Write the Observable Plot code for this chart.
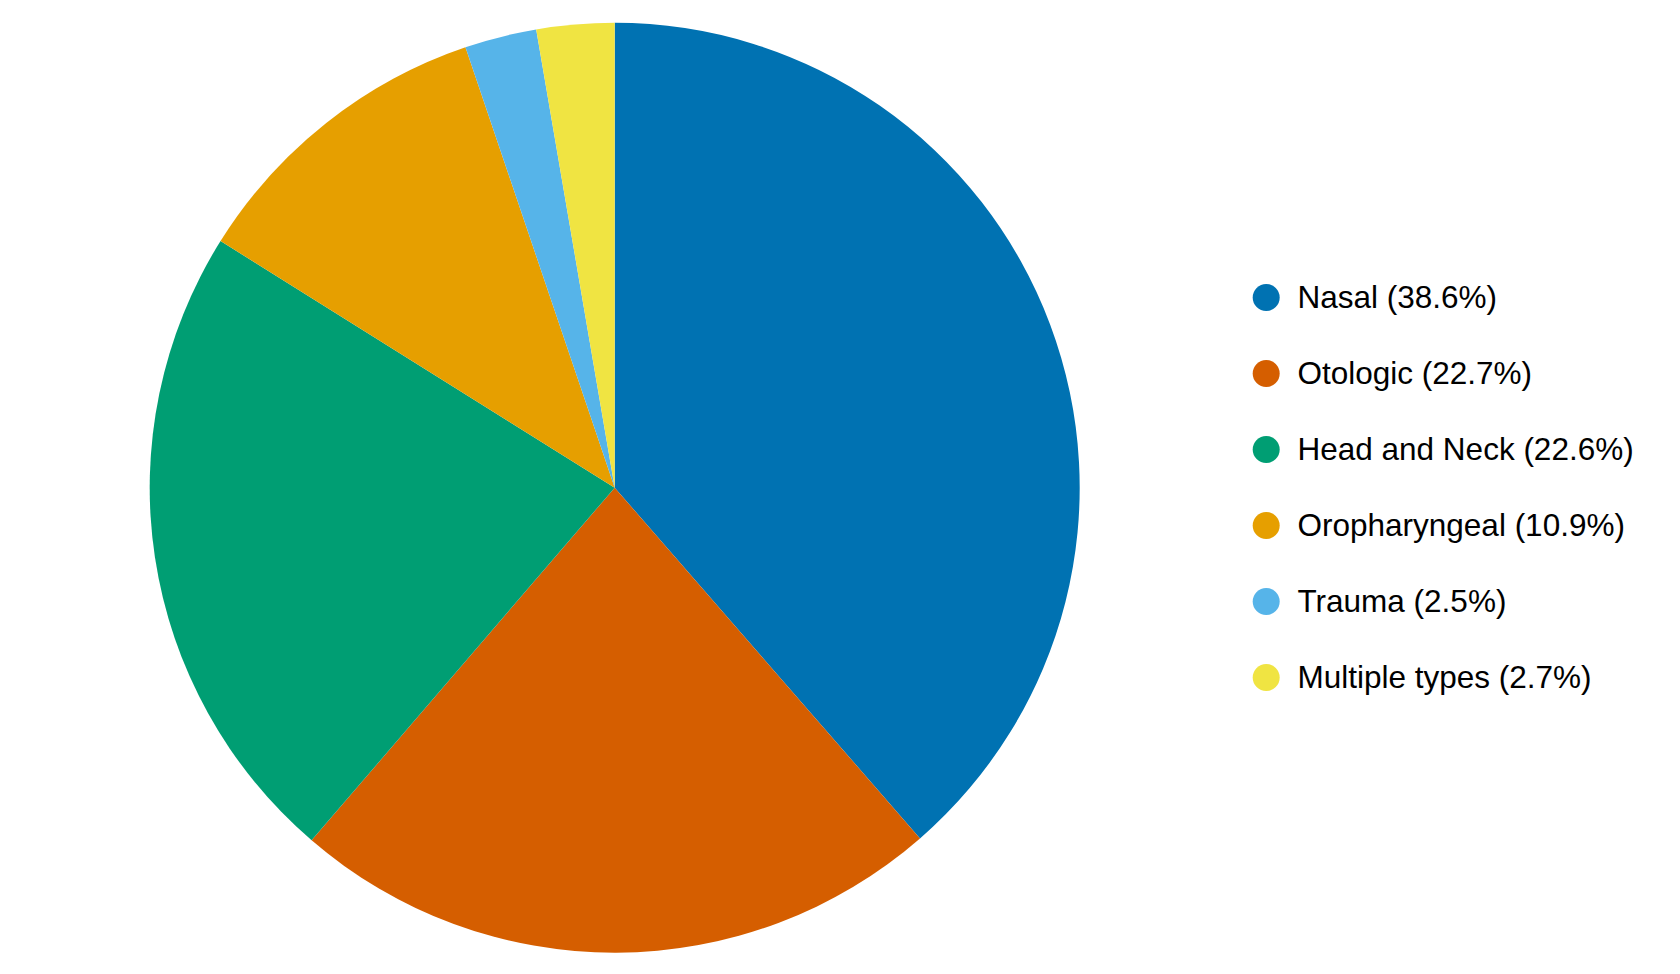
<!DOCTYPE html>
<html>
<head>
<meta charset="utf-8">
<script src="https://cdn.jsdelivr.net/npm/d3@7"></script>
<script src="https://cdn.jsdelivr.net/npm/@observablehq/plot@0.6"></script>
<style>
  html, body { margin: 0; padding: 0; background: #fff; }
  #chart { width: 1680px; height: 974px; }
  #chart svg text { font-family: "Liberation Sans", Arial, sans-serif; }
</style>
</head>
<body>
<div id="chart"></div>
<script>
const categories = ["Nasal", "Otologic", "Head and Neck", "Oropharyngeal", "Trauma", "Multiple types"];
const percents = [38.6, 22.7, 22.6, 10.9, 2.5, 2.7];
const colors = ["#0072B2", "#D55E00", "#009E73", "#E69F00", "#56B4E9", "#F0E442"];
const legendLabels = categories.map((c, i) => `${c} (${percents[i]}%)`);

const data = categories.map((c, i) => ({category: c, value: percents[i], label: legendLabels[i]}));

const colorScale = Plot.scale({color: {type: "ordinal", domain: categories, range: colors}});

const cx = 614.7, cy = 487.7, R = 465;

function pieMark(index, scales) {
  const centerX = scales.x(0);
  const radius = scales.x(1) - scales.x(0);
  const g = d3.create("svg:g").attr("transform", `translate(${centerX},${cy})`);
  const arcs = d3.pie().sort(null).value(d => d.value)(data);
  const arc = d3.arc().innerRadius(0).outerRadius(radius);
  g.selectAll("path").data(arcs).join("path")
    .attr("d", arc)
    .attr("fill", d => colorScale.apply(d.data.category));
  return g.node();
}

const chart = Plot.plot({
  width: 1680,
  height: 974,
  margin: 0,
  style: {background: "#fff", fontFamily: "'Liberation Sans', Arial, sans-serif"},
  x: {type: "linear", domain: [-1, 1], range: [cx - R, cx + R], axis: null},
  y: {type: "point", domain: legendLabels, range: [295.7, 678.9], padding: 0, axis: null},
  marks: [
    pieMark,
    Plot.dot(data, {y: "label", frameAnchor: "left", dx: 1265.7, r: 13.5, fill: d => colorScale.apply(d.category), stroke: null}),
    Plot.text(data, {y: "label", text: "label", frameAnchor: "left", dx: 1297, textAnchor: "start", fontSize: 31.5, fontFamily: "Liberation Sans", fill: "#000", lineAnchor: "middle"})
  ]
});
document.getElementById("chart").appendChild(chart);
</script>
</body>
</html>
